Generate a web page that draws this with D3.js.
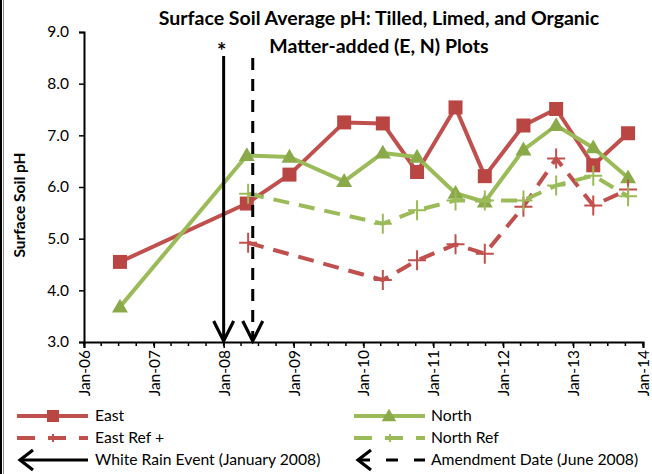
<!DOCTYPE html>
<html>
<head>
<meta charset="utf-8">
<script src="https://cdn.jsdelivr.net/npm/d3@7"></script>
<style>
body{margin:0;background:#fff;}
text{font-family:Lato,"Open Sans",sans-serif;fill:#000;}
</style>
</head>
<body>
<script>
// data
var eastDates = ["2006-07-08","2008-05-01","2008-12-10","2009-09-22","2010-04-12","2010-10-08",
                 "2011-04-27","2011-09-27","2012-04-16","2012-10-04","2013-04-16","2013-10-15"];
var eastValues = [4.55,5.68,6.24,7.25,7.23,6.29,7.54,6.21,7.19,7.51,6.42,7.04];
var northValues = [3.68,6.61,6.58,6.11,6.66,6.58,5.88,5.71,6.72,7.19,6.76,6.18];

var refDates = ["2008-05-08","2010-04-12","2010-10-08","2011-04-27","2011-09-27","2012-04-16",
                "2012-10-04","2013-04-16","2013-10-15"];
var eastRefValues = [4.92,4.20,4.58,4.89,4.71,5.62,6.55,5.64,5.95];
var northRefValues = [5.87,5.29,5.55,5.74,5.74,5.74,6.03,6.22,5.82];

var eventDates = ["2008-01-01","2008-06-01"];
var yTicks = [3,4,5,6,7,8,9];
var titleLines = ["Surface Soil Average pH: Tilled, Limed, and Organic","Matter-added (E, N) Plots"];

var red = "#C0504D", redMk = "#BA4643";
var green = "#9BBB59", greenMk = "#8AAA4A";

var svgWidth = 652, svgHeight = 474;
var plotLeft = 84, plotRight = 643, plotTop = 32, plotBottom = 342;

var svg = d3.select("body").append("svg")
    .attr("width", svgWidth)
    .attr("height", svgHeight);

var parse = d3.timeParse("%Y-%m-%d");

var xScale = d3.scaleTime()
    .domain([parse("2006-01-01"), parse("2014-01-01")])
    .range([plotLeft, plotRight]);
var yScale = d3.scaleLinear()
    .domain([3, 9])
    .range([plotBottom, plotTop]);

// frame line on the left
svg.append("line").attr("x1",1).attr("x2",1).attr("y1",0).attr("y2",svgHeight)
    .attr("stroke","#000").attr("stroke-width",2);
svg.append("line").attr("x1",3.5).attr("x2",3.5).attr("y1",0).attr("y2",svgHeight)
    .attr("stroke","#888").attr("stroke-width",1);

// title
svg.append("text")
    .attr("x", 379).attr("y", 25)
    .attr("text-anchor","middle")
    .style("font-weight","bold").style("font-size","19.5px")
    .selectAll("tspan").data(titleLines).enter().append("tspan")
    .attr("x", 379).attr("dy", function(d,i){ return i ? 27.5 : 0; })
    .text(function(d){ return d; });

// axes
var xAxis = d3.axisBottom(xScale)
    .ticks(d3.timeYear.every(1))
    .tickFormat(d3.timeFormat("%b-%y"))
    .tickSize(6);
var xg = svg.append("g").attr("transform","translate(0,"+plotBottom+")").call(xAxis);
xg.select(".domain").attr("stroke","#000").attr("stroke-width",2);
xg.selectAll(".tick line").attr("stroke","#000").attr("stroke-width",1.5);
xg.selectAll(".tick text")
    .attr("transform","rotate(-90)")
    .attr("x",-8).attr("y",0).attr("dy","0.35em")
    .attr("text-anchor","end")
    .style("font-size","15.5px").style("font-family","Lato");

// minor ticks every 3 months
var minor = d3.timeMonth.every(3).range(parse("2006-01-01"), parse("2014-01-02"));
svg.append("g").selectAll("line").data(minor).enter().append("line")
    .attr("x1", function(d){ return xScale(d); })
    .attr("x2", function(d){ return xScale(d); })
    .attr("y1", plotBottom).attr("y2", plotBottom+4)
    .attr("stroke","#000").attr("stroke-width",1.5);

var yAxis = d3.axisLeft(yScale)
    .tickValues(yTicks)
    .tickFormat(d3.format(".1f"))
    .tickSize(5);
var yg = svg.append("g").attr("transform","translate("+plotLeft+",0)").call(yAxis);
yg.select(".domain").attr("stroke","#000").attr("stroke-width",2);
yg.selectAll(".tick line").attr("stroke","#000").attr("stroke-width",1.5);
yg.selectAll(".tick text").attr("x",-15)
    .style("font-size","15.5px").style("font-family","Lato");

svg.append("text")
    .attr("transform","translate(25,205) rotate(-90)")
    .attr("text-anchor","middle")
    .style("font-weight","bold").style("font-size","15.5px")
    .text("Surface Soil pH");

// series
function pairs(dates, vals){
    return dates.map(function(d,i){ return {date: parse(d), v: vals[i]}; });
}
var east = pairs(eastDates, eastValues);
var north = pairs(eastDates, northValues);
var eastRef = pairs(refDates, eastRefValues);
var northRef = pairs(refDates, northRefValues);

var line = d3.line()
    .x(function(d){ return xScale(d.date); })
    .y(function(d){ return yScale(d.v); });

var plusPath = "M-9,0H9M0,-10V10";

function drawSeries(data, color, dash){
    svg.append("path").datum(data)
        .attr("d", line)
        .attr("fill","none")
        .attr("stroke", color)
        .attr("stroke-width", 4)
        .attr("stroke-dasharray", dash ? "16,10" : null)
        .attr("stroke-linejoin","round");
}

drawSeries(east, red, false);
svg.append("g").selectAll("rect").data(east).enter().append("rect")
    .attr("x", function(d){ return xScale(d.date)-7; })
    .attr("y", function(d){ return yScale(d.v)-7; })
    .attr("width",14).attr("height",14)
    .attr("fill", redMk);

drawSeries(north, green, false);
svg.append("g").selectAll("path").data(north).enter().append("path")
    .attr("transform", function(d){ return "translate("+xScale(d.date)+","+(yScale(d.v)+1)+")"; })
    .attr("d", d3.symbol(d3.symbolTriangle, 110))
    .attr("fill", greenMk);

drawSeries(eastRef, red, true);
svg.append("g").selectAll("path").data(eastRef).enter().append("path")
    .attr("transform", function(d){ return "translate("+xScale(d.date)+","+yScale(d.v)+")"; })
    .attr("d", plusPath)
    .attr("stroke", red).attr("stroke-width",2).attr("fill","none");

drawSeries(northRef, green, true);
svg.append("g").selectAll("path").data(northRef).enter().append("path")
    .attr("transform", function(d){ return "translate("+xScale(d.date)+","+yScale(d.v)+")"; })
    .attr("d", plusPath)
    .attr("stroke", green).attr("stroke-width",2).attr("fill","none");

// event arrows
var arrowTops = [56, 58];
eventDates.forEach(function(d,i){
    var xx = xScale(parse(d));
    svg.append("line")
        .attr("x1",xx).attr("x2",xx)
        .attr("y1",arrowTops[i]).attr("y2",plotBottom-2)
        .attr("stroke","#000").attr("stroke-width",3)
        .attr("stroke-dasharray", i ? "12,9" : null);
    svg.append("path")
        .attr("d","M"+(xx-10)+","+(plotBottom-21)+"L"+xx+","+(plotBottom-1)+"L"+(xx+10)+","+(plotBottom-21))
        .attr("fill","none").attr("stroke","#000").attr("stroke-width",3.2);
});
svg.append("text")
    .attr("x", xScale(parse(eventDates[0]))-2).attr("y", 59)
    .attr("text-anchor","middle")
    .style("font-size","22px").style("font-weight","bold")
    .text("*");

// legend
var legend = svg.append("g");
function legendText(x, y, s){
    legend.append("text").attr("x",x).attr("y",y).attr("dy","0.35em")
        .style("font-size","15.7px").text(s);
}
// East
legend.append("line").attr("x1",17).attr("x2",88).attr("y1",416).attr("y2",416)
    .attr("stroke",red).attr("stroke-width",4);
legend.append("rect").attr("x",47).attr("y",410).attr("width",12).attr("height",12).attr("fill",redMk);
legendText(95,416,"East");
// North
legend.append("line").attr("x1",354).attr("x2",425).attr("y1",416).attr("y2",416)
    .attr("stroke",green).attr("stroke-width",4);
legend.append("path").attr("transform","translate(389,417)")
    .attr("d", d3.symbol(d3.symbolTriangle, 90)).attr("fill",greenMk);
legendText(431,416,"North");
// East Ref +
legend.append("line").attr("x1",17).attr("x2",88).attr("y1",438).attr("y2",438)
    .attr("stroke",red).attr("stroke-width",4).attr("stroke-dasharray","18,13");
legend.append("path").attr("transform","translate(53,438)").attr("d","M-5,0H5M0,-4V4")
    .attr("stroke",red).attr("stroke-width",2);
legendText(95,438,"East Ref +");
// North Ref
legend.append("line").attr("x1",354).attr("x2",425).attr("y1",438).attr("y2",438)
    .attr("stroke",green).attr("stroke-width",4).attr("stroke-dasharray","18,13");
legend.append("path").attr("transform","translate(390,438)").attr("d","M-5,0H5M0,-4V4")
    .attr("stroke",green).attr("stroke-width",2);
legendText(431,438,"North Ref");
// White rain event
legend.append("line").attr("x1",20).attr("x2",88).attr("y1",460).attr("y2",460)
    .attr("stroke","#000").attr("stroke-width",3);
legend.append("path").attr("d","M33,450L20,460L33,470").attr("fill","none")
    .attr("stroke","#000").attr("stroke-width",3.2);
legendText(95,460,"White Rain Event (January 2008)");
// Amendment date
legend.append("line").attr("x1",358).attr("x2",425).attr("y1",460).attr("y2",460)
    .attr("stroke","#000").attr("stroke-width",3).attr("stroke-dasharray","12,16");
legend.append("path").attr("d","M371,450L358,460L371,470").attr("fill","none")
    .attr("stroke","#000").attr("stroke-width",3.2);
legendText(431,460,"Amendment Date (June 2008)");
</script>
</body>
</html>
